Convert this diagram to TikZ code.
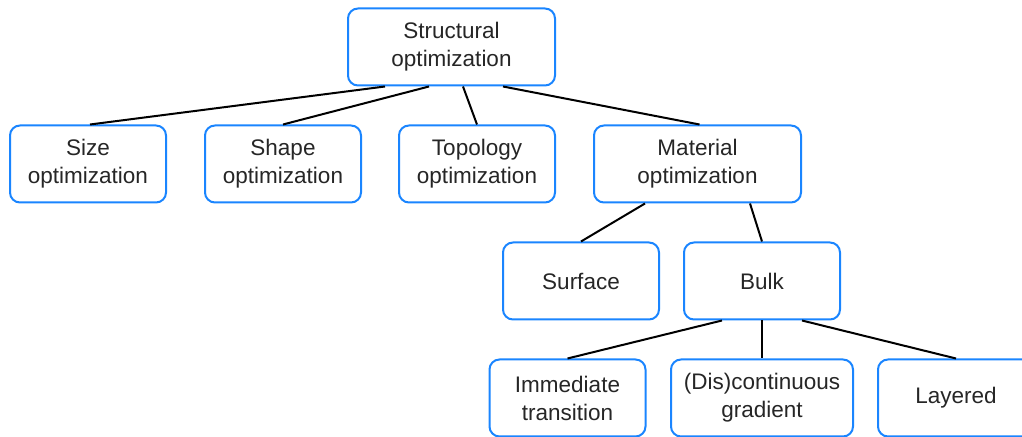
\documentclass[tikz,border=0pt]{standalone}
\usepackage{fontspec}
\setmainfont{Liberation Sans}
\usetikzlibrary{calc}
\definecolor{boxblue}{HTML}{1A85FF}
\definecolor{txt}{HTML}{262626}
\tikzset{
  box/.style={draw=boxblue, line width=1pt, rounded corners=5pt, fill=white,
    minimum height=38.5pt, inner sep=0pt, align=center, text=txt,
    font=\fontsize{11.25}{14}\selectfont},
  w156/.style={minimum width=78pt},
  w207/.style={minimum width=103.5pt},
  w182/.style={minimum width=91pt},
  link/.style={draw=black, line width=1pt},
}
\begin{document}
\begin{tikzpicture}[x=0.5pt,y=-0.5pt]
\useasboundingbox (0,0) rectangle (1022,437);
\clip (0,0) rectangle (1022,437);
\node[box,w207] (S) at (451.5,47) {Structural\\optimization};
\node[box,w156] (size) at (88,164) {Size\\optimization};
\node[box,w156] (shape) at (283,164) {Shape\\optimization};
\node[box,w156] (topo) at (477,164) {Topology\\optimization};
\node[box,w207] (mat) at (697.5,164) {Material\\optimization};
\node[box,w156] (surf) at (581,281) {Surface};
\node[box,w156] (bulk) at (762,281) {Bulk};
\node[box,w156] (imm) at (567.5,398) {Immediate\\transition};
\node[box,w182] (dis) at (762,398) {(Dis)continuous\\gradient};
\node[box,w156] (lay) at (956,398) {Layered};
\draw[link] ($(S.south)+(-66.5,0)$) -- ($(size.north)+(2,0)$);
\draw[link] ($(S.south)+(-22.5,0)$) -- (shape.north);
\draw[link] ($(S.south)+(11.5,0)$) -- (topo.north);
\draw[link] ($(S.south)+(51.5,0)$) -- ($(mat.north)+(2,0)$);
\draw[link] ($(mat.south)+(-52.5,0)$) -- (surf.north);
\draw[link] ($(mat.south)+(52.5,0)$) -- (bulk.north);
\draw[link] ($(bulk.south)+(-40,0)$) -- (imm.north);
\draw[link] (bulk.south) -- (dis.north);
\draw[link] ($(bulk.south)+(40,0)$) -- (lay.north);
\end{tikzpicture}
\end{document}
